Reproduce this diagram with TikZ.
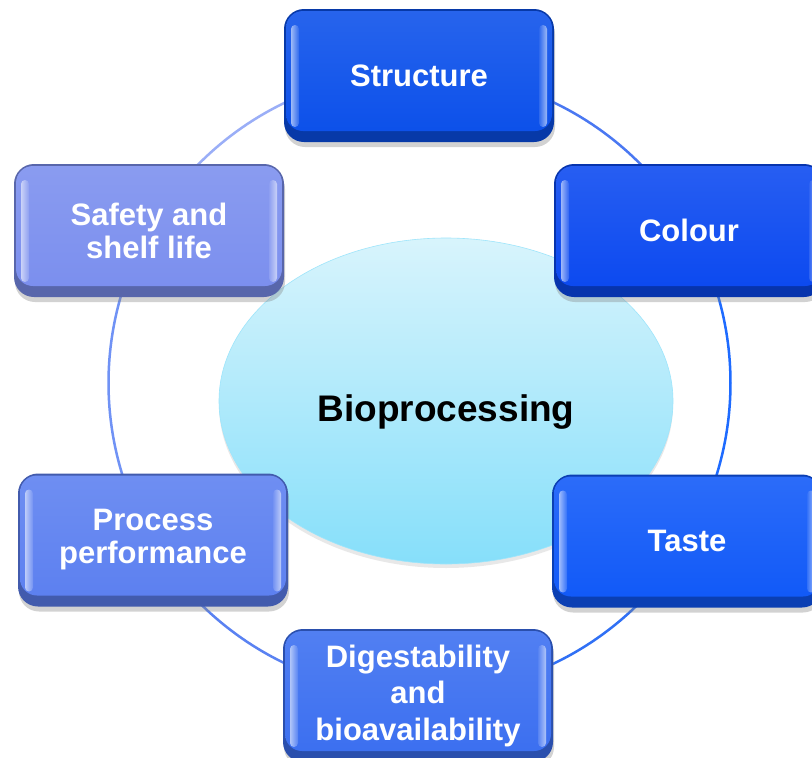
\documentclass[tikz,border=0pt]{standalone}
\usepackage{fontspec}
\setmainfont{Liberation Sans}
\usetikzlibrary{calc,shadows,shapes.geometric}

% box colours
\definecolor{cStruct}{HTML}{0A4FEA}
\definecolor{cColour}{HTML}{0A48F0}
\definecolor{cTaste}{HTML}{0F58F8}
\definecolor{cDigest}{HTML}{3A6EF0}
\definecolor{cProcess}{HTML}{5B7FF0}
\definecolor{cSafety}{HTML}{7A8EEE}
% ring segment colours
\definecolor{rA}{HTML}{4A78F2}
\definecolor{rB}{HTML}{1E6BFF}
\definecolor{rC}{HTML}{3070F5}
\definecolor{rD}{HTML}{5A82F2}
\definecolor{rE}{HTML}{7092F5}
\definecolor{rF}{HTML}{9AAEF7}
% centre ellipse
\definecolor{eTop}{HTML}{D8F4FC}
\definecolor{eBot}{HTML}{86DFFA}

\tikzset{
  ringline/.style={line width=2.5pt},
  gel/.style={
    rectangle, rounded corners=20pt,
    minimum width=270pt, minimum height=133pt, inner sep=0pt,
    text=white, align=center,
    font=\fontsize{31}{33}\selectfont\bfseries,
    fill=#1!72!black,
    drop shadow={shadow xshift=1pt, shadow yshift=-5pt, opacity=.35},
    path picture={
      % raised face
      \path[top color=#1!88!white, bottom color=#1, rounded corners=17pt]
        ($(path picture bounding box.north west)+(2,2)$) rectangle
        ($(path picture bounding box.south east)+(-2,-11)$);
      % glossy side strips
      \path[left color=#1!40!white, right color=#1!85!white, rounded corners=4pt]
        ($(path picture bounding box.north west)+(7,16)$) rectangle
        ($(path picture bounding box.south west)+(15,-15)$);
      \path[left color=#1!85!white, right color=#1!40!white, rounded corners=4pt]
        ($(path picture bounding box.north east)+(-15,16)$) rectangle
        ($(path picture bounding box.south east)+(-7,-15)$);
    }
  },
}

\begin{document}
\begin{tikzpicture}[x=1pt, y=-1pt]
  \clip (0,0) rectangle (812,758);
  \fill[white] (0,0) rectangle (812,758);

  % ring behind everything
  \coordinate (o) at (419.5,383);
  \foreach \a/\b/\c in {-90/-30/rA, -30/30/rB, 30/90/rC, 90/150/rD, 150/210/rE, 210/270/rF}
    \draw[ringline, \c] (o) ++(\a:311) arc[start angle=\a, end angle=\b, radius=311];

  % centre
  \node[ellipse, minimum width=454pt, minimum height=326pt, inner sep=0pt,
        top color=eTop, bottom color=eBot, draw=eBot!80!white, line width=0.6pt,
        drop shadow={shadow xshift=0pt, shadow yshift=-4pt, opacity=.18},
        font=\fontsize{37}{40}\selectfont\bfseries, text=black,
        text height=46pt, text depth=5pt]
    (bio) at (446,401) {Bioprocessing};

  % surrounding boxes
  \node[gel=cStruct]  (structure) at (419,75.5)  {Structure};
  \node[gel=cColour]  (colour)    at (689,230.5) {Colour};
  \node[gel=cTaste]   (taste)     at (687,541)   {Taste};
  \node[gel=cDigest, font=\fontsize{31}{36.5}\selectfont\bfseries]
                      (digest)    at (418,695.5) {Digestability\\and\\bioavailability};
  \node[gel=cProcess] (process)   at (153,540)   {Process\\performance};
  \node[gel=cSafety]  (safety)    at (149,230.5) {Safety and\\shelf life};
\end{tikzpicture}
\end{document}
